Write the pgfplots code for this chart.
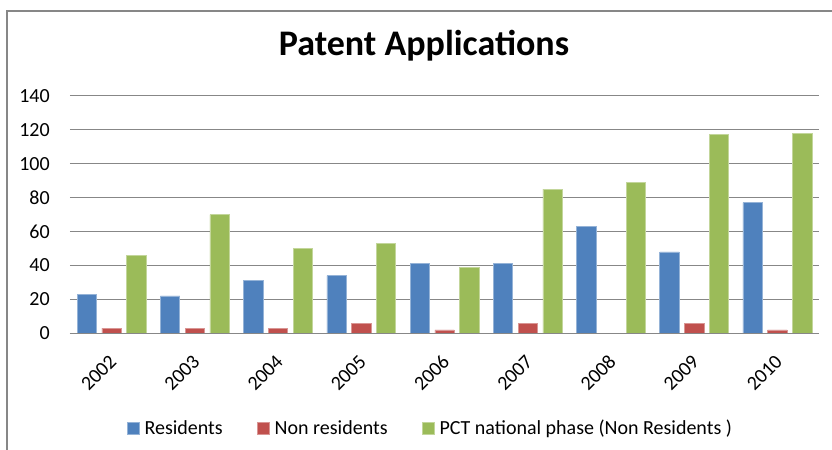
\documentclass[border=0pt]{standalone}
\usepackage{pgfplots}
\pgfplotsset{compat=1.18}
\usepackage{fontspec}
\setmainfont{Carlito}
\definecolor{cblue}{HTML}{4F81BD}
\definecolor{cred}{HTML}{C0504D}
\definecolor{cgreen}{HTML}{9BBB59}
\definecolor{cgrid}{HTML}{878787}
\begin{document}
\begin{tikzpicture}
\useasboundingbox (-52.5pt,-86.8pt) rectangle (571.5pt,250pt);
\draw[cgrid, line width=1pt] (-47.25pt,-100pt) -- (-47.25pt,241.7pt) -- (600pt,241.7pt);
\begin{axis}[
  at={(0,0)}, anchor=south west,
  scale only axis, width=561.75pt, height=178.2pt,
  xmin=-0.5, xmax=8.5, ymin=0, ymax=140,
  ybar=4.05pt, bar width=14.5pt,
  xtick={0,...,8},
  xticklabels={2002,2003,2004,2005,2006,2007,2008,2009,2010},
  ytick={0,20,...,140},
  major tick length=0pt,
  axis line style={draw=none},
  ymajorgrids, grid style={cgrid, line width=1pt},
  /pgf/number format/assume math mode=true,
  tick label style={font=\fontsize{15}{18}\selectfont},
  yticklabel style={anchor=east, inner sep=0pt, xshift=-15pt},
  xticklabel style={xshift=1.2pt, yshift=-18.6pt, rotate=45, anchor=east, inner sep=0pt},
  title={\fontsize{27}{32}\selectfont\bfseries Patent Applications},
  title style={at={(0.4726,1.171)}, anchor=base, inner sep=0pt, yshift=-6pt},
  legend columns=3,
  legend style={draw=none, fill=none, at={(0.481,-0.40)}, anchor=base, inner sep=0pt,
    font=\fontsize{15}{18}\selectfont,
    /tikz/every odd column/.append style={column sep=2.8pt},
    /tikz/every even column/.append style={column sep=25pt},
    nodes={inner sep=1pt}},
  legend image code/.code={\fill[#1] (0pt,-4.4pt) rectangle (8.8pt,4.4pt);},
]
\addplot[fill=cblue, draw=cblue!60!white, line width=0.4pt] coordinates {(0,23) (1,22) (2,31) (3,34) (4,41) (5,41) (6,63) (7,48) (8,77)};
\addplot[fill=cred, draw=cred!60!white, line width=0.4pt] coordinates {(0,3) (1,3) (2,3) (3,6) (4,2) (5,6) (6,0) (7,6) (8,2)};
\addplot[fill=cgreen, draw=cgreen!60!white, line width=0.4pt] coordinates {(0,46) (1,70) (2,50) (3,53) (4,39) (5,85) (6,89) (7,117) (8,118)};
\legend{Residents, Non residents, PCT national phase (Non Residents )}
\draw[cgrid, line width=1pt] (axis cs:-0.5,0) -- (axis cs:8.5,0);
\end{axis}
\end{tikzpicture}
\end{document}
